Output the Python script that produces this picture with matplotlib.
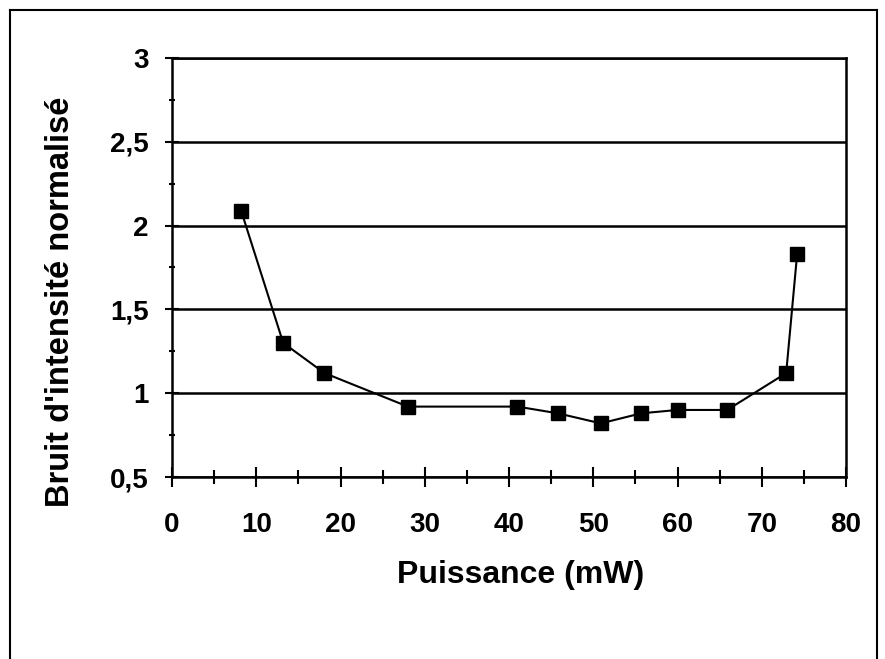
import matplotlib
matplotlib.use("Agg")
import matplotlib.pyplot as plt
from matplotlib.lines import Line2D
from matplotlib.ticker import MultipleLocator, FuncFormatter

puissance = [8.2, 13.2, 18.1, 28.0, 41.0, 45.8, 50.9, 55.7, 60.0, 65.9, 72.9, 74.2]
bruit = [2.09, 1.30, 1.12, 0.92, 0.92, 0.88, 0.82, 0.88, 0.90, 0.90, 1.12, 1.83]
x_label = "Puissance (mW)"
y_label = "Bruit d'intensité normalisé"

plt.rcParams['font.family'] = ['Liberation Sans', 'DejaVu Sans']

W, H = 885, 659
fig = plt.figure(figsize=(W/100, H/100), dpi=100)
ax = fig.add_axes([172/W, 1-477/H, (846-172)/W, (477-58)/H])

ax.plot(puissance, bruit, color='black', lw=1.5, marker='s', markersize=9.5,
        markerfacecolor='black', markeredgecolor='black')

ax.set_xlim(0, 80)
ax.set_ylim(0.5, 3)
ax.xaxis.set_major_locator(MultipleLocator(10))
ax.xaxis.set_minor_locator(MultipleLocator(5))
ax.yaxis.set_major_locator(MultipleLocator(0.5))
ax.yaxis.set_minor_locator(MultipleLocator(0.25))
ax.yaxis.set_major_formatter(FuncFormatter(lambda v, p: ('%g' % v).replace('.', ',')))
ax.grid(axis='y', which='major', color='black', lw=1.8)
ax.set_axisbelow(True)

for s in ['left', 'bottom', 'right', 'top']:
    ax.spines[s].set_linewidth(1.8)
    ax.spines[s].set_color('black')

ax.tick_params(axis='x', which='major', direction='inout', length=14, width=1.5, pad=18)
ax.tick_params(axis='y', which='major', direction='inout', length=10, width=1.5, pad=12)
ax.tick_params(axis='y', which='minor', direction='inout', length=5, width=1.5)
ax.tick_params(axis='x', which='minor', direction='inout', length=10, width=1.5)
for lab in ax.get_xticklabels() + ax.get_yticklabels():
    lab.set_fontsize(20)
    lab.set_fontweight('bold')

fig.text(521/W, 1-583/H, x_label, fontsize=23, fontweight='bold',
         ha='center', va='baseline')
fig.text(61/W, 1-302/H, y_label, fontsize=23.5, fontweight='bold',
         rotation=90, ha='center', va='center')

# outer frame (bottom edge outside the image)
kw = dict(color='black', lw=1.5, transform=fig.transFigure)
fig.add_artist(Line2D([10/W, 10/W], [0, 1-10/H], **kw))
fig.add_artist(Line2D([10/W, 877/W], [1-10/H, 1-10/H], **kw))
fig.add_artist(Line2D([877/W, 877/W], [0, 1-10/H], **kw))

fig.savefig("out.png", dpi=100)
